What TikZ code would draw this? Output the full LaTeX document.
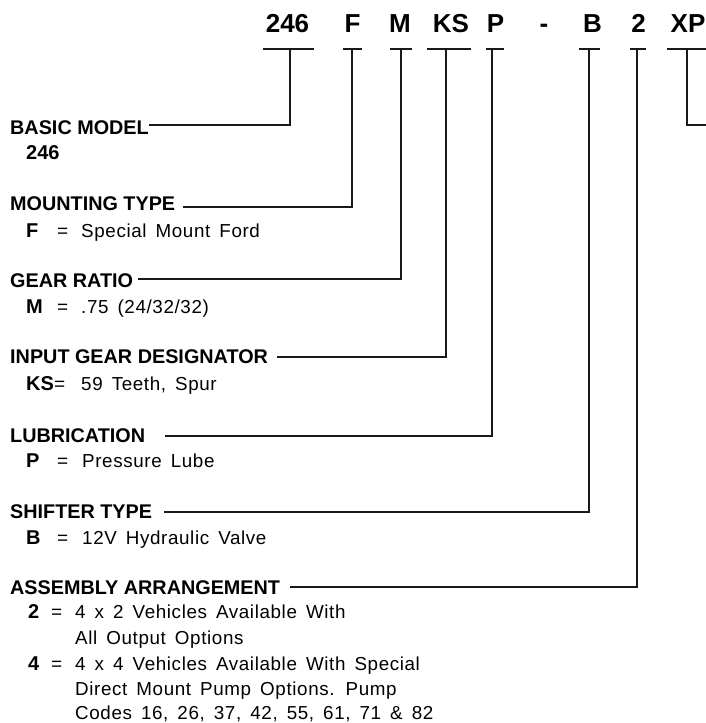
\documentclass[tikz,border=0pt]{standalone}
\usepackage{fontspec}
\setmainfont{Liberation Sans}
\newfontfamily\bodyfont[LetterSpace=3.3,WordSpace=1.55]{Liberation Sans}
\begin{document}
\begin{tikzpicture}[x=1pt,y=-1pt,
  code/.style={font=\fontsize{26}{28}\selectfont\bfseries, inner sep=0pt, anchor=base},
  head/.style={font=\fontsize{19.8}{22}\selectfont\bfseries, inner sep=0pt, anchor=base west},
  keyt/.style={font=\fontsize{20}{22}\selectfont\bfseries, inner sep=0pt, anchor=base west},
  eqt/.style={font=\fontsize{19}{21}\selectfont, inner sep=0pt, anchor=base west},
  valt/.style={font=\bodyfont\fontsize{18.8}{21}\selectfont, inner sep=0pt, anchor=base west},
  conn/.style={line width=2pt, draw=black!90}]
\useasboundingbox (0,0) rectangle (706,723);

% model code
\node[code] (n246) at (287.5,32) {246};
\node[code] (nF)   at (352.5,32) {F};
\node[code] (nM)   at (400,32) {M};
\node[code] (nKS)  at (451,32) {KS};
\node[code] (nP)   at (495.5,32) {P};
\node[code] (nDash) at (544,32) {-};
\node[code] (nB)   at (592.5,32) {B};
\node[code] (n2)   at (638.5,32) {2};
\node[code] (nXP)  at (688,32) {XP};

% headings
\node[head] (h1) at (10,134) {BASIC MODEL};
\node[head] (h2) at (10,210) {MOUNTING TYPE};
\node[head] (h3) at (10,287) {GEAR RATIO};
\node[head] (h4) at (10,363) {INPUT GEAR DESIGNATOR};
\node[head] (h5) at (10,442) {LUBRICATION};
\node[head] (h6) at (10,518) {SHIFTER TYPE};
\node[head] (h7) at (10,594) {ASSEMBLY ARRANGEMENT};

% values
\node[keyt] (k1) at (26,159) {246};

\node[keyt] (k2) at (26,237) {F};
\node[eqt]  (q2) at (57,237) {=};
\node[valt] (v2) at (81,237) {Special Mount Ford};

\node[keyt] (k3) at (26,313) {M};
\node[eqt]  (q3) at (57,313) {=};
\node[valt] (v3) at (81,313) {.75 (24/32/32)};

\node[keyt] (k4) at (26,390) {KS};
\node[eqt]  (q4) at (54,390) {=};
\node[valt] (v4) at (81,390) {59 Teeth, Spur};

\node[keyt] (k5) at (26,467) {P};
\node[eqt]  (q5) at (57,467) {=};
\node[valt] (v5) at (82,467) {Pressure Lube};

\node[keyt] (k6) at (26,544) {B};
\node[eqt]  (q6) at (57,544) {=};
\node[valt] (v6) at (82,544) {12V Hydraulic Valve};

\node[keyt] (k7) at (28,618) {2};
\node[eqt]  (q7) at (51,618) {=};
\node[valt] (v7a) at (75,618) {4 x 2 Vehicles Available With};
\node[valt] (v7b) at (75,644) {All Output Options};
\node[keyt] (k8) at (28,670) {4};
\node[eqt]  (q8) at (51,670) {=};
\node[valt] (v8a) at (75,670) {4 x 4 Vehicles Available With Special};
\node[valt] (v8b) at (75,695.5) {Direct Mount Pump Options. Pump};
\node[valt] (v8c) at (75,719.5) {Codes 16, 26, 37, 42, 55, 61, 71 \& 82};

% bracket coordinates
\coordinate (s246) at (290,49); \coordinate (l246) at (263,49); \coordinate (r246) at (314,49);
\coordinate (sF) at (352,49);   \coordinate (lF) at (343,49);   \coordinate (rF) at (362,49);
\coordinate (sM) at (401,49);   \coordinate (lM) at (390,49);   \coordinate (rM) at (412,49);
\coordinate (sKS) at (446,49);  \coordinate (lKS) at (427,49);  \coordinate (rKS) at (471,49);
\coordinate (sP) at (492,49);   \coordinate (lP) at (486,49);   \coordinate (rP) at (504,49);
\coordinate (sB) at (589,49);   \coordinate (lB) at (579,49);   \coordinate (rB) at (600,49);
\coordinate (s2) at (637,49);   \coordinate (l2) at (630,49);   \coordinate (r2) at (646,49);
\coordinate (sXP) at (687,49);  \coordinate (lXP) at (667,49);  \coordinate (rXP) at (710,49);

\foreach \c in {246,F,M,KS,P,B,2,XP}{\draw[conn] (l\c) -- (r\c);}

% line ends at the headings
\coordinate (e1) at (149,125);
\coordinate (e2) at (183,207);
\coordinate (e3) at (138,279);
\coordinate (e4) at (277,357);
\coordinate (e5) at (165,436);
\coordinate (e6) at (164,512);
\coordinate (e7) at (290,587);
\coordinate (eXP) at (710,125);

\draw[conn] (e1) -| (s246);
\draw[conn] (e2) -| (sF);
\draw[conn] (e3) -| (sM);
\draw[conn] (e4) -| (sKS);
\draw[conn] (e5) -| (sP);
\draw[conn] (e6) -| (sB);
\draw[conn] (e7) -| (s2);
\draw[conn] (eXP) -| (sXP);
\end{tikzpicture}
\end{document}
